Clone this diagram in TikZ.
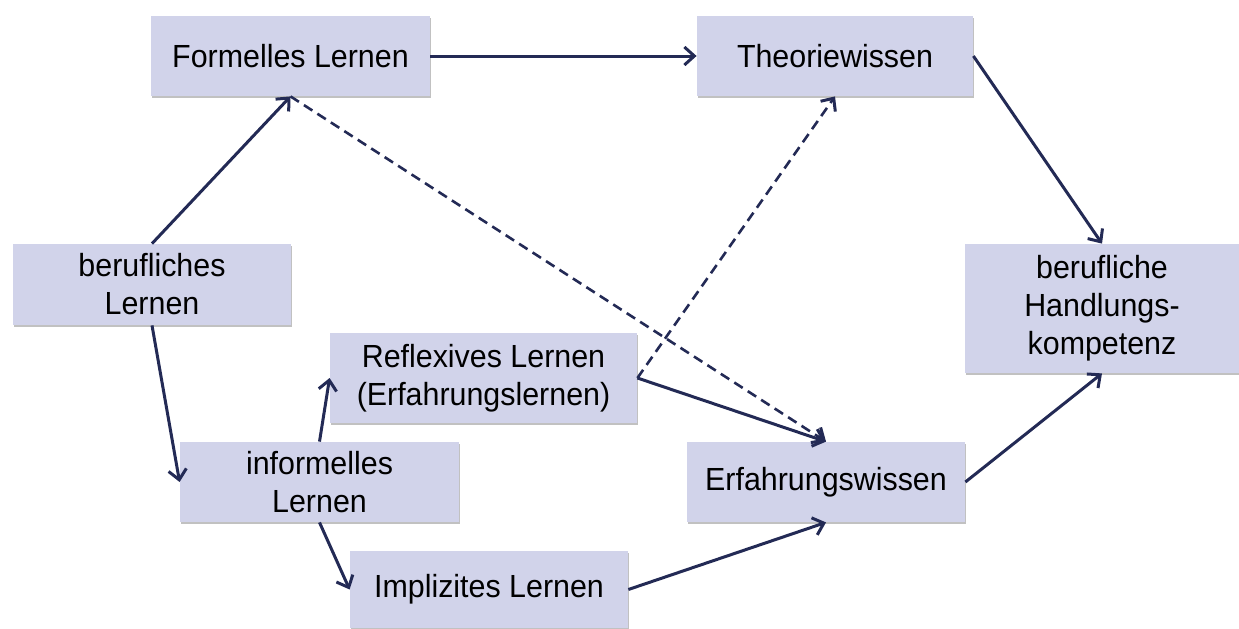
\documentclass[tikz,border=0pt]{standalone}
\usepackage{fontspec}
\setmainfont{Liberation Sans}[FakeStretch=0.95]
\usetikzlibrary{arrows.meta,shadows}
\definecolor{boxfill}{RGB}{209,211,234}
\definecolor{arrowcol}{RGB}{35,42,85}
\tikzset{
  box/.style={fill=boxfill, draw=none, align=center, inner sep=0pt,
    font=\fontsize{16}{19}\selectfont,
    drop shadow={shadow xshift=0.6pt, shadow yshift=-0.8pt, opacity=0.35, fill=black!70}},
  conn/.style={draw=arrowcol, line width=1.5pt, -{Straight Barb[length=5pt,width=9pt,line width=1.5pt]}},
  dconn/.style={conn, dash pattern=on 5pt off 3pt, line width=1.3pt}
}
\begin{document}
\begin{tikzpicture}[x=0.5pt,y=-0.5pt]
\useasboundingbox (0,0) rectangle (1239,628);
\node[box, minimum width=139.5pt, minimum height=40pt] (FL) at (290.5,56) {Formelles Lernen};
\node[box, minimum width=138pt, minimum height=40pt] (TW) at (835,56) {Theoriewissen};
\node[box, minimum width=139pt, minimum height=40.5pt] (BL) at (152,284.5) {berufliches\\Lernen};
\node[box, minimum width=153.5pt, minimum height=45pt] (RL) at (483.5,378) {Reflexives Lernen\\(Erfahrungslernen)};
\node[box, minimum width=139.5pt, minimum height=40pt] (IL) at (319.5,482) {informelles\\Lernen};
\node[box, minimum width=139pt, minimum height=38.5pt] (IMP) at (489,589.5) {Implizites Lernen};
\node[box, minimum width=139pt, minimum height=40pt] (EW) at (826,482) {Erfahrungswissen};
\node[box, minimum width=137pt, minimum height=64.5pt] (BH) at (1102,308.5) {berufliche\\Handlungs-\\kompetenz};

\draw[conn] (BL.north) -- (FL.south);
\draw[conn] (FL.east) -- (TW.west);
\draw[dconn] (FL.south) -- (EW.north);
\draw[dconn] (RL.east) -- (TW.south);
\draw[conn] (RL.east) -- (EW.north);
\draw[conn] (TW.east) -- (BH.north);
\draw[conn] (EW.east) -- (BH.south);
\draw[conn] (BL.south) -- (IL.west);
\draw[conn] (IL.north) -- (RL.west);
\draw[conn] (IL.south) -- (IMP.west);
\draw[conn] (IMP.east) -- (EW.south);
\end{tikzpicture}
\end{document}
